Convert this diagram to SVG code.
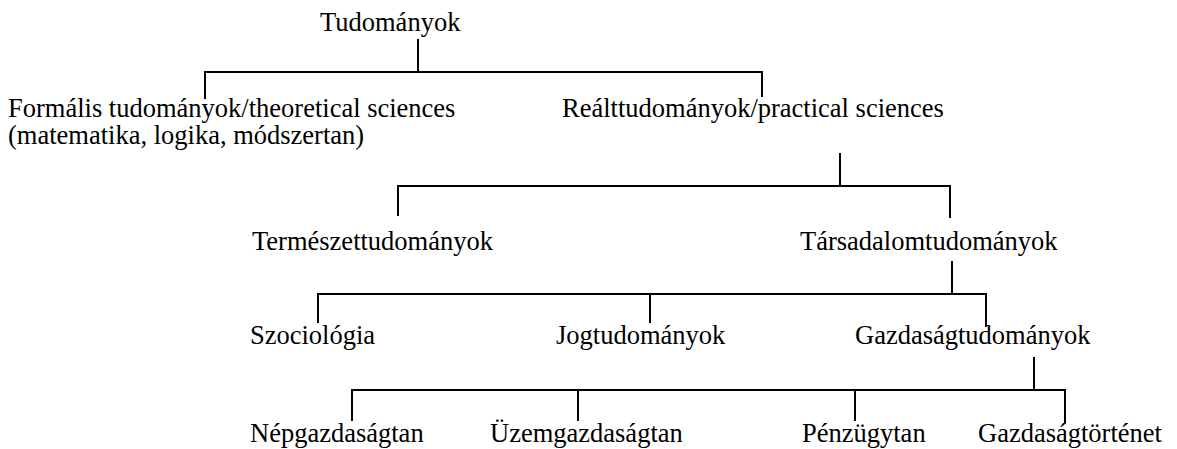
<svg xmlns="http://www.w3.org/2000/svg" width="1177" height="449" viewBox="0 0 1177 449">
<style>
text{font-family:"Liberation Serif","Times New Roman",serif;font-size:26.5px;fill:#000}
.c line{stroke:#000;stroke-width:2;stroke-linecap:square}
</style>
<rect width="1177" height="449" fill="#fff"/>
<g class="c" id="connectors">
<line x1="418" y1="40" x2="418" y2="72"/>
<line x1="205" y1="72" x2="762" y2="72"/>
<line x1="205" y1="72" x2="205" y2="98"/>
<line x1="762" y1="72" x2="762" y2="96"/>
<line x1="840" y1="154" x2="840" y2="186"/>
<line x1="398" y1="186" x2="950" y2="186"/>
<line x1="398" y1="186" x2="398" y2="215"/>
<line x1="950" y1="186" x2="950" y2="217"/>
<line x1="952" y1="262" x2="952" y2="294"/>
<line x1="318" y1="294" x2="986" y2="294"/>
<line x1="318" y1="294" x2="318" y2="322"/>
<line x1="650" y1="294" x2="650" y2="322"/>
<line x1="986" y1="294" x2="986" y2="326"/>
<line x1="1034" y1="358" x2="1034" y2="390"/>
<line x1="352" y1="390" x2="1065" y2="390"/>
<line x1="352" y1="390" x2="352" y2="420"/>
<line x1="578" y1="390" x2="578" y2="420"/>
<line x1="855" y1="390" x2="855" y2="420"/>
<line x1="1065" y1="390" x2="1065" y2="422"/>
</g>
<g id="n-tudomanyok"><text x="320" y="31">Tudományok</text></g>
<g id="n-formalis"><text x="8" y="117">Formális tudományok/theoretical sciences</text><text x="8" y="144">(matematika, logika, módszertan)</text></g>
<g id="n-real"><text x="562" y="117">Reálttudományok/practical sciences</text></g>
<g id="n-termeszet"><text x="252" y="250">Természettudományok</text></g>
<g id="n-tarsadalom"><text x="800" y="250">Társadalomtudományok</text></g>
<g id="n-szociologia"><text x="250" y="344">Szociológia</text></g>
<g id="n-jog"><text x="556" y="344">Jogtudományok</text></g>
<g id="n-gazdasag"><text x="855" y="344">Gazdaságtudományok</text></g>
<g id="n-nepgazd"><text x="250" y="442">Népgazdaságtan</text></g>
<g id="n-uzem"><text x="490" y="442">Üzemgazdaságtan</text></g>
<g id="n-penzugy"><text x="802" y="442">Pénzügytan</text></g>
<g id="n-gazdtort"><text x="978" y="442">Gazdaságtörténet</text></g>
</svg>
